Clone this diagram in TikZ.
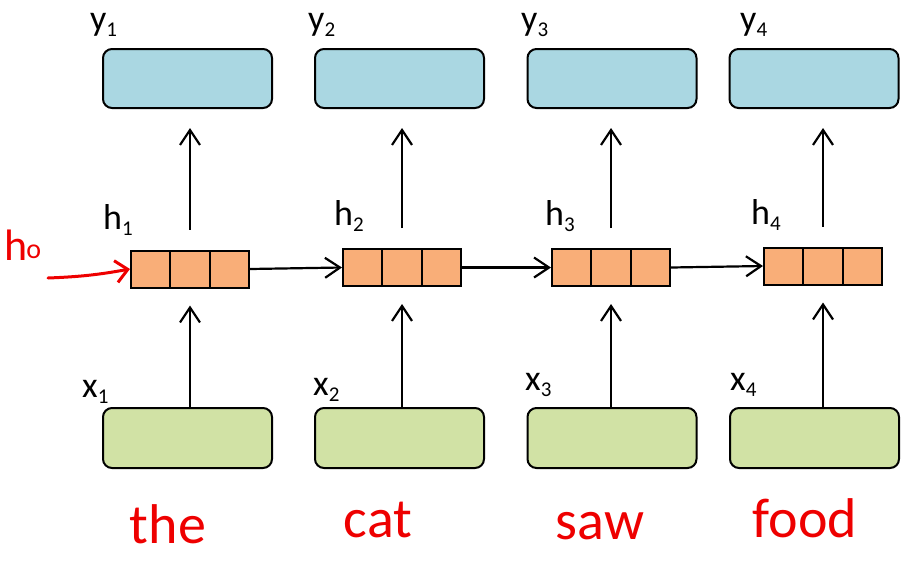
\documentclass[tikz,border=0pt]{standalone}
\usepackage{fontspec}
\setmainfont{Carlito}
\usetikzlibrary{arrows.meta,calc}
\definecolor{outblue}{RGB}{170,215,226}
\definecolor{ingreen}{RGB}{209,226,165}
\definecolor{hidorange}{RGB}{249,174,120}
\definecolor{inkred}{RGB}{238,0,0}
% variable with a lowered index
\newcommand\varlbl[2]{#1\raisebox{-6pt}{\fontsize{21}{21}\selectfont #2}}
\begin{document}
\begin{tikzpicture}[x=1pt,y=-1pt,
  outbox/.style={draw=black,line width=2pt,rounded corners=9pt,fill=outblue,
    minimum width=169pt,minimum height=59pt,inner sep=0pt},
  inbox/.style={outbox,fill=ingreen,minimum height=60pt},
  hidbox/.style={draw=black,line width=2pt,fill=hidorange,
    minimum width=118pt,minimum height=37pt,inner sep=0pt},
  arr/.style={line width=2.2pt,-{Straight Barb[length=15pt,width=20pt,line width=2.2pt]}},
  inkarr/.style={draw=inkred,line width=3pt,line cap=round,
    -{Straight Barb[length=12pt,width=22pt,line width=3pt]}},
  lab/.style={anchor=base west,inner sep=0pt,font=\fontsize{36}{36}\selectfont},
  ink/.style={text=inkred,inner sep=0pt,font=\fontsize{56}{56}\selectfont}]
\useasboundingbox (0,0) rectangle (901,563);

% output layer
\node[outbox] (y1) at (187.5,78.5) {};
\node[outbox] (y2) at (399.5,78.5) {};
\node[outbox] (y3) at (612,78.5) {};
\node[outbox] (y4) at (814,78.5) {};

% hidden state vectors, three cells each
\node[hidbox] (h1) at (190,269) {};
\node[hidbox] (h2) at (402,267.5) {};
\node[hidbox] (h3) at (611,267.5) {};
\node[hidbox] (h4) at (823,266) {};
\foreach \n in {h1,h2,h3,h4}{
  \draw[line width=2pt] ($(\n.south west)!1/3!(\n.south east)$) -- ($(\n.north west)!1/3!(\n.north east)$);
  \draw[line width=2pt] ($(\n.south west)!2/3!(\n.south east)$) -- ($(\n.north west)!2/3!(\n.north east)$);
}

% input layer
\node[inbox] (x1) at (187.5,438) {};
\node[inbox] (x2) at (399.5,438) {};
\node[inbox] (x3) at (612,438) {};
\node[inbox] (x4) at (814.5,438) {};

% labels
\node[lab] (ly1) at (90,30) {\varlbl{y}{1}};
\node[lab] (ly2) at (308,30) {\varlbl{y}{2}};
\node[lab] (ly3) at (521,30) {\varlbl{y}{3}};
\node[lab] (ly4) at (740,30) {\varlbl{y}{4}};
\node[lab] (lh1) at (103,229) {\varlbl{h}{1}};
\node[lab] (lh2) at (334,225) {\varlbl{h}{2}};
\node[lab] (lh3) at (545,225) {\varlbl{h}{3}};
\node[lab] (lh4) at (751,224) {\varlbl{h}{4}};
\node[lab] (lx1) at (82,397) {\varlbl{x}{1}};
\node[lab] (lx2) at (313,395) {\varlbl{x}{2}};
\node[lab] (lx3) at (525,390) {\varlbl{x}{3}};
\node[lab] (lx4) at (730,390) {\varlbl{x}{4}};

% inputs feed the hidden states
\foreach \i in {1,2,3,4}{
  \draw[arr,shorten >=17pt] (h\i.south |- x\i.north) -- (h\i.south);
  \draw[arr,shorten <=20pt,shorten >=19pt] (h\i.north) -- (h\i.north |- y\i.south);
}
% recurrence
\draw[arr] (h1.east) -- (h2.west);
\draw[arr] (h2.east) -- (h3.west);
\draw[arr] (h3.east) -- (h4.west);

% handwritten annotations
\node[text=inkred,anchor=base west,inner sep=0pt,font=\fontsize{44}{44}\selectfont]
  (h0) at (4,260) {h\kern-1pt\raisebox{2pt}{\fontsize{28}{28}\selectfont o}};
\coordinate (h0tail) at (48,278);
\draw[inkarr] (h0tail) to[bend right=4] (h1.west);
\node[ink] (w1) at (168,524) {the};
\node[ink] (w2) at (378,520) {cat};
\node[ink] (w3) at (600,526) {saw};
\node[ink] (w4) at (805,518) {food};
\end{tikzpicture}
\end{document}
